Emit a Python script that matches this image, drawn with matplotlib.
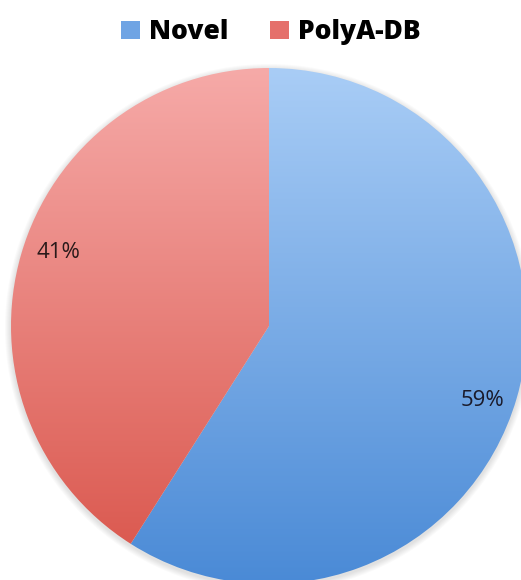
import numpy as np
import matplotlib.pyplot as plt
from matplotlib.patches import Patch
from matplotlib.colors import LinearSegmentedColormap

# data
labels = ['Novel', 'PolyA-DB']
shares = [59, 41]
top_colors = ['#a9cdf6', '#f6aaa8']
bottom_colors = ['#4a8ad6', '#d9544a']
legend_colors = ['#6fa4e4', '#e5706b']

W, H = 521, 580
fig = plt.figure(figsize=(W / 100, H / 100), dpi=100)
ax = fig.add_axes([0, 0, 1, 1])

cx, cy, r = 269, 254, 258

# soft shadow
for k in range(6):
    ax.add_patch(plt.Circle((cx, cy - 2), r + 1 + k, color='k', alpha=0.018, lw=0, zorder=0))

wedges, _ = ax.pie(shares, center=(cx, cy), radius=r, startangle=90, counterclock=False,
                   colors=['none', 'none'], wedgeprops=dict(linewidth=0), frame=True)
ax.set_xlim(0, W)
ax.set_ylim(0, H)
ax.set_aspect('equal')
ax.axis('off')

grad = np.linspace(0, 1, 256).reshape(-1, 1)
for w, c0, c1 in zip(wedges, top_colors, bottom_colors):
    cmap = LinearSegmentedColormap.from_list('g', [c1, c0])
    im = ax.imshow(grad, cmap=cmap, extent=(cx - r, cx + r, cy - r, cy + r),
                   origin='lower', aspect='auto', zorder=1, interpolation='bilinear')
    im.set_clip_path(w)

# percentage labels
ax.text(482, 580 - 400, f'{shares[0]}%', fontsize=16, family='Open Sans', color='#1a1a2a',
        ha='center', va='center', zorder=3)
ax.text(58, 580 - 252, f'{shares[1]}%', fontsize=16, family='Open Sans', color='#2a1a1a',
        ha='center', va='center', zorder=3)

handles = [Patch(facecolor=c, edgecolor='none', label=l) for c, l in zip(legend_colors, labels)]
ax.legend(handles=handles, loc='upper center', bbox_to_anchor=(0.52, 1.008), ncol=2,
          frameon=False, prop=dict(family='Open Sans', weight='heavy', size=19),
          handlelength=0.7, handleheight=0.7, handletextpad=0.35, columnspacing=1.6)

fig.savefig('out.png', dpi=100)
